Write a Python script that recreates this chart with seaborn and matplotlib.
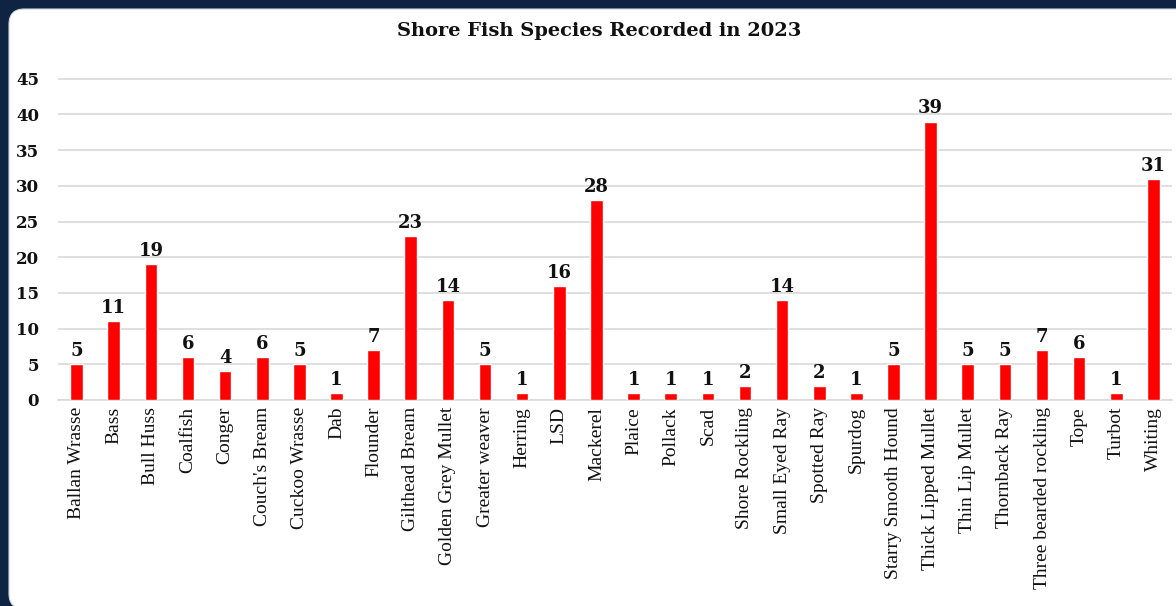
import matplotlib

matplotlib.use("Agg")

import pandas as pd
import seaborn as sns
from matplotlib import pyplot as plt
from matplotlib.patches import FancyBboxPatch

species = [
    "Ballan Wrasse", "Bass", "Bull Huss", "Coalfish", "Conger", "Couch's Bream",
    "Cuckoo Wrasse", "Dab", "Flounder", "Gilthead Bream", "Golden Grey Mullet",
    "Greater weaver", "Herring", "LSD", "Mackerel", "Plaice", "Pollack", "Scad",
    "Shore Rockling", "Small Eyed Ray", "Spotted Ray", "Spurdog",
    "Starry Smooth Hound", "Thick Lipped Mullet", "Thin Lip Mullet",
    "Thornback Ray", "Three bearded rockling", "Tope", "Turbot", "Whiting",
]
counts = [5, 11, 19, 6, 4, 6, 5, 1, 7, 23, 14, 5, 1, 16, 28, 1, 1, 1, 2, 14,
          2, 1, 5, 39, 5, 5, 7, 6, 1, 31]
y_ticks = [0, 5, 10, 15, 20, 25, 30, 35, 40, 45]

frame = pd.DataFrame({"species": species, "count": counts})

sns.set_theme(style="white")
plt.rcParams["font.family"] = ["Liberation Serif", "DejaVu Serif"]

fig = plt.figure(figsize=(11.76, 6.06), dpi=100, facecolor="#0f2442")
# white card with rounded corners, running off the right and bottom edges
panel = FancyBboxPatch(
    (9 / 1176, -3 / 606), 1200 / 1176, 600 / 606,
    boxstyle="round,pad=0,rounding_size=0.013",
    transform=fig.transFigure, facecolor="white", edgecolor="#cfd6df",
    linewidth=0.8, mutation_aspect=1176 / 606, zorder=-5,
)
fig.patches.append(panel)

ax = fig.add_axes([58 / 1176, 206 / 606, 1114 / 1176, 327 / 606])
ax.set_facecolor("none")
sns.barplot(data=frame, x="species", y="count", color="#ff0000",
            saturation=1, width=0.34, ax=ax, zorder=3)

for container in ax.containers:
    ax.bar_label(container, padding=3, fontsize=13, fontweight="bold",
                 color="#111111", family="DejaVu Serif")

ax.set_ylim(0, 45.8)
ax.set_yticks(y_ticks)
ax.set_xlim(-0.5, len(species) - 0.5)
ax.yaxis.grid(True, color="#d9d9d9", linewidth=1.2, zorder=0)
for side in ("top", "right", "left"):
    ax.spines[side].set_visible(False)
ax.spines["bottom"].set_color("#d9d9d9")
ax.spines["bottom"].set_linewidth(1.2)
ax.tick_params(axis="y", length=0, pad=13.5, labelsize=12, labelcolor="#111111")
ax.tick_params(axis="x", length=0, pad=5, labelsize=14, labelcolor="#111111")
for label in ax.get_yticklabels():
    label.set_fontweight("bold")
    label.set_family("DejaVu Serif")
plt.setp(ax.get_xticklabels(), rotation=90)
ax.set_xlabel("")
ax.set_ylabel("")

fig.text(0.5 + 11 / 1176, 1 - 31 / 606, "Shore Fish Species Recorded in 2023",
         ha="center", va="center", fontsize=14, fontweight="bold",
         color="#111111", family="DejaVu Serif")

fig.savefig("out.png", dpi=100, facecolor=fig.get_facecolor())
